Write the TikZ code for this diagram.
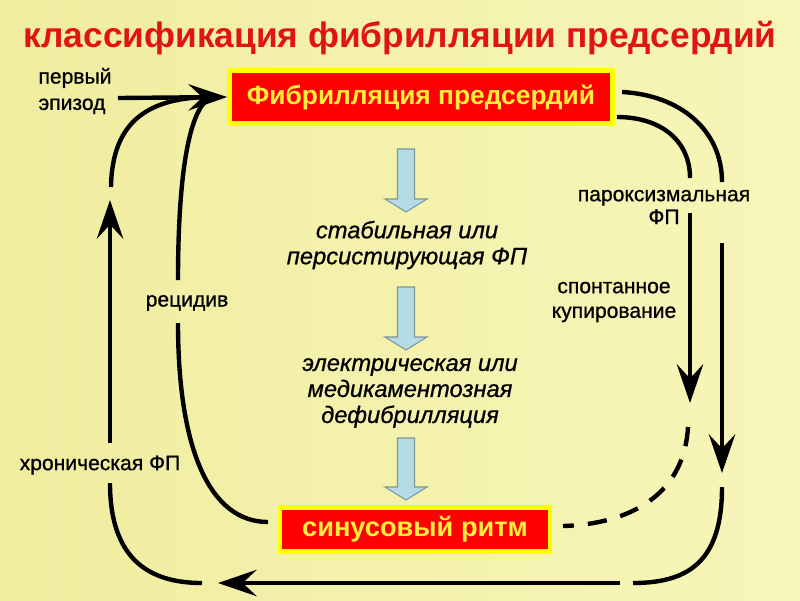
\documentclass[tikz,border=0pt]{standalone}
\usepackage{fontspec}
\setmainfont{Liberation Sans}
\newfontfamily\lblfont{Liberation Sans}[FakeBold=0.8]
\usepackage{xcolor}
\usetikzlibrary{arrows.meta, positioning}

\definecolor{titlered}{RGB}{225,20,20}
\definecolor{boxred}{RGB}{255,0,0}
\definecolor{boxyellow}{RGB}{255,255,0}
\definecolor{boxtext}{RGB}{255,238,60}
\definecolor{bgleft}{RGB}{240,237,160}
\definecolor{bgright}{RGB}{247,246,185}
\definecolor{arrowblue}{RGB}{180,220,230}
\definecolor{arrowedge}{RGB}{125,150,150}

% block arrow pointing down: x, top y, tip y
\newcommand{\blockdown}[3]{%
  \draw[blk] (#1-8.5,#2) -- (#1+8.5,#2) -- (#1+8.5,#3-13) -- (#1+21,#3-13)
    -- (#1,#3) -- (#1-21,#3-13) -- (#1-8.5,#3-13) -- cycle;}

\begin{document}
\begin{tikzpicture}[x=0.02cm, y=-0.02cm,
    flow/.style={line width=2.5pt, black},
    tip/.style={-{Stealth[length=22pt, width=15pt, inset=8pt]}},
    redbox/.style={fill=boxred, draw=boxyellow, line width=2.8pt, text=boxtext, inner sep=0pt},
    lbl/.style={font=\lblfont\fontsize{12}{15}\selectfont, align=center, inner sep=0pt},
    itl/.style={font=\lblfont\fontsize{13.5}{14.8}\selectfont\itshape, align=center, inner sep=0pt},
    blk/.style={fill=arrowblue, draw=arrowedge, line width=0.6pt}]

    % 1. Фон и заголовок
    \shade[left color=bgleft, right color=bgright] (0,0) rectangle (800,600);
    \useasboundingbox (0,0) rectangle (800,600);
    \node[text=titlered, font=\fontsize{20.1}{24}\selectfont\bfseries] (title) at (400,38)
        {классификация фибрилляции предсердий};

    % 2. Красные прямоугольники
    \node[redbox, minimum width=7.66cm, minimum height=1.06cm, font=\fontsize{15}{17}\selectfont\bfseries]
        (fp) at (421,97) {Фибрилляция предсердий};
    \node[redbox, minimum width=5.4cm, minimum height=0.88cm, font=\fontsize{15.5}{18}\selectfont\bfseries]
        (sr) at (415,529.5) {синусовый ритм};

    % 3. Центральная колонка
    \node[itl] (st) at (407,245) {стабильная или\\персистирующая ФП};
    \node[itl] (el) at (410,393) {электрическая или\\медикаментозная\\дефибрилляция};
    \blockdown{406}{149}{212}
    \blockdown{406}{287}{350}
    \blockdown{406}{438}{500}

    % 4. Подписи
    \node[lbl, align=left] (epi) at (75,91) {первый\\эпизод};
    \node[lbl] (rec) at (187,303) {рецидив};
    \node[lbl] (chr) at (100,465) {хроническая ФП};
    \node[lbl, font=\lblfont\fontsize{12}{13}\selectfont] (par) at (664,207) {пароксизмальная\\ФП};
    \node[lbl, font=\lblfont\fontsize{12}{14}\selectfont] (sp) at (614,302) {спонтанное\\купирование};

    % 5. Точки стрелок
    \coordinate (e1) at (118,98);
    \coordinate (j) at (212,97);
    \coordinate (lo1) at (111,187);
    \coordinate (rc1) at (178,280);
    \coordinate (rc2) at (178,323);
    \coordinate (rc3) at (268,522);
    \coordinate (lv1) at (110,443);
    \coordinate (lv2) at (110,200);
    \coordinate (ll1) at (110,483);
    \coordinate (ll2) at (202,583);
    \coordinate (bt1) at (620,583);
    \coordinate (bt2) at (218,583);
    \coordinate (rl1) at (722,487);
    \coordinate (rl2) at (633,583);
    \coordinate (ro1) at (622,92);
    \coordinate (ro2) at (722,182);
    \coordinate (ro3) at (722,243);
    \coordinate (ro4) at (722,473);
    \coordinate (ri1) at (617,117);
    \coordinate (ri2) at (690,178);
    \coordinate (ri3) at (690,213);
    \coordinate (ri4) at (690,403);
    \coordinate (ds1) at (688,427);
    \coordinate (ds2) at (563,526);

    % 6. Чёрные стрелки слева
    \draw[flow, tip] (e1) -- (fp.west);
    \draw[flow] (lo1) .. controls (112,120) and (150,97) .. (j);
    \draw[flow] (rc1) .. controls (178,170) and (190,105) .. (j);
    \draw[flow] (rc2) .. controls (178,450) and (210,522) .. (rc3);
    \draw[flow, tip] (lv1) -- (lv2);
    \draw[flow] (ll1) .. controls (110,560) and (150,583) .. (ll2);
    \draw[flow, tip] (bt1) -- (bt2);

    % 7. Чёрные стрелки справа
    \draw[flow] (ro1) .. controls (680,95) and (722,130) .. (ro2);
    \draw[flow, tip] (ro3) -- (ro4);
    \draw[flow] (rl1) .. controls (722,560) and (690,583) .. (rl2);
    \draw[flow] (ri1) .. controls (660,117) and (690,140) .. (ri2);
    \draw[flow, tip] (ri3) -- (ri4);
    \draw[flow, dash pattern=on 11pt off 8pt] (ds1) .. controls (684,495) and (630,524) .. (ds2);

\end{tikzpicture}
\end{document}
